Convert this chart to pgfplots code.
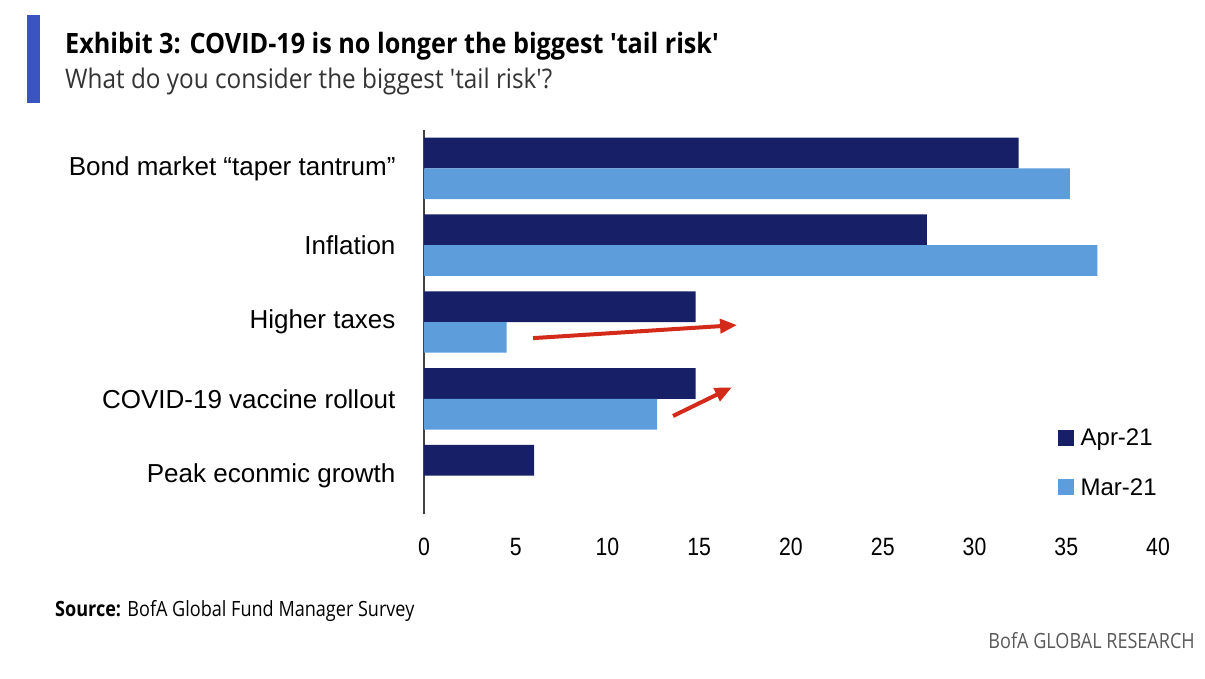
\documentclass[border=0pt]{standalone}
\usepackage{fontspec}
\usepackage{pgfplots}
\pgfplotsset{compat=1.18}
\usetikzlibrary{arrows.meta}
\setmainfont{Liberation Sans}
\newfontfamily\tickfont[FakeStretch=0.85]{Liberation Sans}
\newfontfamily\headfont[FakeStretch=0.9]{Open Sans}
\newfontfamily\footfont[FakeStretch=0.86]{Open Sans}
\definecolor{navy}{HTML}{172066}
\definecolor{lblue}{HTML}{5E9DDB}
\definecolor{barblue}{HTML}{3A55C0}
\definecolor{arrred}{HTML}{D42A1A}
\begin{document}
\begin{tikzpicture}[x=1pt,y=1pt]
\useasboundingbox (0,0) rectangle (1205,678);
% header
\fill[barblue] (27,575) rectangle (40,663);
\node[anchor=base west,inner sep=0pt] at (65,624) {\headfont\bfseries\fontsize{28}{32}\selectfont Exhibit 3: COVID-19 is no longer the biggest 'tail risk'};
\node[anchor=base west,inner sep=0pt,text=black!80] at (65,589) {\headfont\fontsize{27}{32}\selectfont What do you consider the biggest 'tail risk'?};
\begin{axis}[
  at={(424pt,164pt)}, anchor=south west,
  scale only axis, width=734pt, height=384pt,
  xmin=0, xmax=40, ymin=-0.5, ymax=4.5,
  axis x line*=bottom, axis y line*=left,
  x axis line style={draw=none},
  y axis line style={draw=black!75, line width=1.6pt, -},
  xtick={0,5,...,40}, ytick=\empty,
  major tick length=0pt,
  xticklabel style={font=\tickfont\fontsize{25}{28}\selectfont, yshift=-21pt},
  /pgf/number format/assume math mode=true,
  clip=false,
  legend cell align=left,
  legend style={at={(0.863,0.227)}, anchor=north west, draw=none, fill=none,
    font=\fontsize{24}{28}\selectfont, row sep=27pt, inner sep=0pt},
  legend image code/.code={\fill[#1] (0pt,-8pt) rectangle (16pt,8pt); \path (21pt,0pt);},
]
\addplot[xbar, bar width=0.4, bar shift=0.2, fill=navy, draw=none]
  coordinates {(32.4,4) (27.4,3) (14.8,2) (14.8,1) (6.0,0)};
\addlegendentry{Apr-21}
\addplot[xbar, bar width=0.4, bar shift=-0.2, fill=lblue, draw=none]
  coordinates {(35.2,4) (36.7,3) (4.5,2) (12.7,1)};
\addlegendentry{Mar-21}
\draw[arrred, line width=4pt, -{Triangle[length=17pt,width=14pt]}] (axis cs:5.94,1.79) -- (axis cs:17.06,1.96);
\draw[arrred, line width=4pt, -{Triangle[length=17pt,width=14pt]}] (axis cs:13.57,0.776) -- (axis cs:16.78,1.15);
\node[anchor=east, font=\fontsize{26}{30}\selectfont] at (axis cs:0,4) [xshift=-25pt] {Bond market “taper tantrum”};
\node[anchor=east, font=\fontsize{26}{30}\selectfont] at (axis cs:0,3) [xshift=-25pt] {Inflation};
\node[anchor=east, font=\fontsize{26}{30}\selectfont] at (axis cs:0,2) [xshift=-25pt] {Higher taxes};
\node[anchor=east, font=\fontsize{26}{30}\selectfont] at (axis cs:0,1) [xshift=-25pt] {COVID-19 vaccine rollout};
\node[anchor=east, font=\fontsize{26}{30}\selectfont] at (axis cs:0,0) [xshift=-25pt] {Peak econmic growth};
\end{axis}
% footer
\node[anchor=base west,inner sep=0pt] at (55,62) {\footfont\fontsize{21}{24}\selectfont\textbf{Source:} BofA Global Fund Manager Survey};
\node[anchor=base east,inner sep=0pt,text=black!65] at (1195,30) {\footfont\fontsize{21}{24}\selectfont BofA GLOBAL RESEARCH};
\end{tikzpicture}
\end{document}
